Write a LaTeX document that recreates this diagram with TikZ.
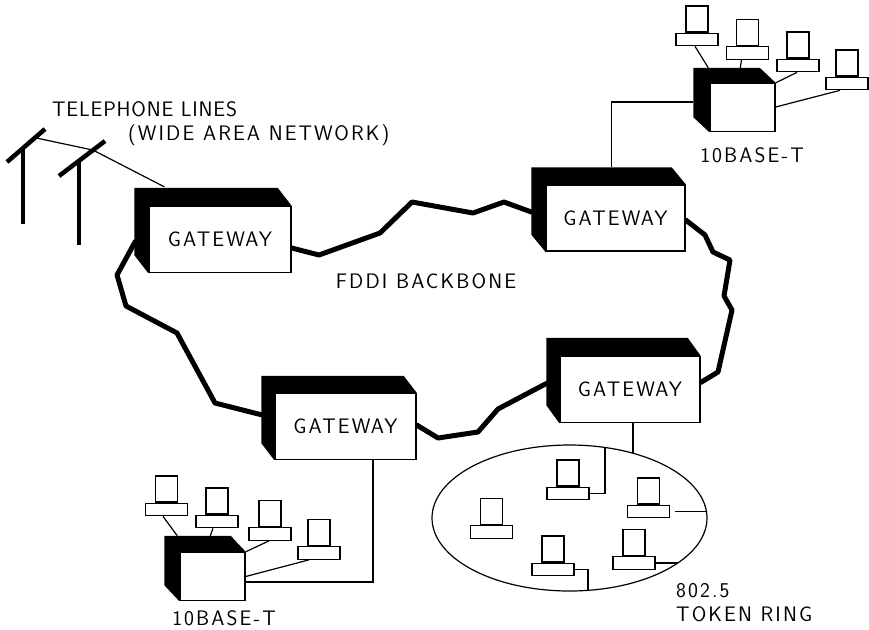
\documentclass[tikz,border=0pt]{standalone}
\usepackage{fontspec}
\usetikzlibrary{calc,shapes.geometric}
\newfontfamily\plotfont{Latin Modern Sans}[LetterSpace=10]

% one workstation: a base plate with a screen standing on it
\newcommand\pc[3]{%
  \node[pcbase] (#1) at (#2,#3) {};
  \node[pcscreen, anchor=south] (#1m) at (#1.north) {};}

% black extruded back of a box node, offset up and to the left
\newcommand\backface[3]{%
  \fill[black] ($(#1.north west)+(-#2,-#3)$) -- ($(#1.north east)+(-#2,-#3)$)
    -- (#1.north east) -- (#1.north west) -- (#1.south west)
    -- ($(#1.south west)+(-#2,-#3)$) -- cycle;}

\begin{document}
\begin{tikzpicture}[x=1pt,y=-1pt,
  wire/.style={line width=1.2pt},
  backbone/.style={line width=5pt, line join=round, line cap=round},
  pole/.style={line width=4.5pt},
  txt/.style={font=\plotfont\fontsize{21}{21}\selectfont, inner sep=0pt},
  boxfront/.style={draw, fill=white, line width=1.4pt, inner sep=0pt, txt},
  gateway/.style={boxfront, minimum width=#1, minimum height=66pt},
  hub/.style={boxfront, minimum width=65pt, minimum height=48pt},
  pcbase/.style={draw, fill=white, line width=1.2pt, inner sep=0pt,
                 minimum width=42pt, minimum height=12.5pt},
  pcscreen/.style={draw, fill=white, line width=1.2pt, inner sep=0pt,
                   minimum width=22pt, minimum height=26pt}]

\useasboundingbox (0,0) rectangle (869,629);

% ---------------- gateway positions ----------------
\coordinate (g1c) at (220,239.5);
\coordinate (g2c) at (615.5,218);
\coordinate (g3c) at (630,389.5);
\coordinate (g4c) at (345.5,426.5);

% invisible outlines so the ring can be routed between the boxes
\path (g1c) node[gateway=142pt, draw=none, fill=none] (g1) {}
      (g2c) node[gateway=139pt, draw=none, fill=none] (g2) {}
      (g3c) node[gateway=140pt, draw=none, fill=none] (g3) {}
      (g4c) node[gateway=141pt, draw=none, fill=none] (g4) {};

% ---------------- FDDI backbone ring ----------------
\draw[backbone] ($(g1.east)+(0,8.5)$) -- (319,255) -- (380,233) -- (412,202)
  -- (473,213) -- (504,202) -- ($(g2.west)+(-14,-6)$);
\draw[backbone] ($(g2.east)+(0,2)$) -- (705,235) -- (713,252) -- (730,260)
  -- (724,296) -- (732,310) -- (718,372) -- ($(g3.east)+(0,-7)$);
\draw[backbone] ($(g3.west)+(-13,-6)$) -- (498,409) -- (478,432) -- (438,438)
  -- ($(g4.east)+(0,-1.5)$);
\draw[backbone] ($(g4.west)+(-12,-11.5)$) -- (215,403) -- (177,333) -- (126,306)
  -- (117,275) -- ($(g1.west)+(-13,2)$);

% ---------------- gateway boxes ----------------
\backface{g1}{14}{18}
\backface{g2}{14}{17}
\backface{g3}{13}{18}
\backface{g4}{13}{17}
\node[gateway=142pt] at (g1c) {GATEWAY};
\node[gateway=139pt] at (g2c) {GATEWAY};
\node[gateway=140pt] at (g3c) {GATEWAY};
\node[gateway=141pt] at (g4c) {GATEWAY};

\node[txt, anchor=base] (fddi) at (426,288.3) {FDDI BACKBONE};

% ---------------- telephone lines ----------------
\coordinate (p1l) at (7,162);   \coordinate (p1r) at (45,129);
\coordinate (p1t) at (23,148);  \coordinate (p1f) at (23,224);
\coordinate (p2l) at (59,176);  \coordinate (p2r) at (105,141);
\coordinate (p2t) at (79,161);  \coordinate (p2f) at (79,245);
\draw[pole] (p1l) -- (p1r);  \draw[pole] (p1t) -- (p1f);
\draw[pole] (p2l) -- (p2r);  \draw[pole] (p2t) -- (p2f);
\coordinate (w1) at (35,137.7);
\coordinate (w2) at (93,150.1);
\draw[wire] (w1) -- (w2) -- ($(g1.north west)+(16,-19)$);

\node[txt, anchor=base west] (tel) at (52,116.7)
  {\addfontfeature{LetterSpace=4}TELEPHONE LINES};
\node[txt, anchor=base west] (wan) at (128,140.7) {(WIDE AREA NETWORK)};

% ---------------- 10BASE-T hub, upper right ----------------
\node[hub] (hubT) at (742.5,107.5) {};
\backface{hubT}{16}{15}
\pc{t1}{697}{39.5}
\pc{t2}{747.5}{53}
\pc{t3}{798}{65.5}
\pc{t4}{847}{83.5}
\draw[wire] ($(t1.south)+(-2,0)$) -- ($(hubT.north west)+(-1,-15)$);
\draw[wire] ($(t2.south)+(-6,0)$) -- ($(hubT.north west)+(31,-15)$);
\draw[wire] ($(t3.south)+(-1,0)$) -- (hubT.north east);
\draw[wire] ($(t4.south)+(-7,0)$) -- ($(hubT.east)+(0,-0.5)$);
\draw[wire] ($(hubT.west)+(-16,-5.5)$) -| ($(g2.north west)+(66,-17)$);
\node[txt, anchor=base] (lblT) at (752,162.7) {10BASE-T};

% ---------------- 10BASE-T hub, lower left ----------------
\node[hub] (hubB) at (212.5,576.5) {};
\backface{hubB}{15}{16}
\pc{b1}{166.5}{509.5}
\pc{b2}{217}{521.5}
\pc{b3}{270}{534}
\pc{b4}{319}{553}
\draw[wire] ($(b1.south)+(-3.5,0)$) -- ($(hubB.north west)+(-2,-16)$);
\draw[wire] ($(b2.south)+(-4,0)$) -- ($(hubB.north west)+(31,-16)$);
\draw[wire] ($(b3.south)+(-1,0)$) -- (hubB.north east);
\draw[wire] ($(b4.south)+(-10,0)$) -- (hubB.east);
\draw[wire] ($(hubB.east)+(0,5.5)$) -| ($(g4.south)+(27.5,0)$);
\node[txt, anchor=base] (lblB) at (224,625) {10BASE-T};

% ---------------- 802.5 token ring ----------------
\node[ellipse, draw, line width=1.2pt, inner sep=0pt,
      minimum width=275pt, minimum height=146pt] (ring) at (569.5,518) {};
\coordinate (ringtop) at (633,453.2);
\coordinate (ra) at (605,447.5);
\coordinate (rb) at (706.5,511.5);
\coordinate (rc) at (588,590.3);
\coordinate (rd) at (678,563);
\draw[wire] ($(g3.south)+(3,0)$) -- (ringtop);
\pc{r1}{568}{493.5}
\pc{r2}{648.5}{511.5}
\pc{r3}{491.5}{532}
\pc{r4}{553}{569.5}
\pc{r5}{634}{563}
\draw[wire] (r1.east) -| (ra);
\draw[wire] ($(r2.east)+(5,0)$) -- (rb);
\draw[wire] (r4.east) -| (rc);
\draw[wire] (r5.east) -- (rd);
\node[txt, anchor=base west] (std) at (676,597) {802.5};
\node[txt, anchor=base west] (tok) at (676,621) {TOKEN RING};

\end{tikzpicture}
\end{document}
